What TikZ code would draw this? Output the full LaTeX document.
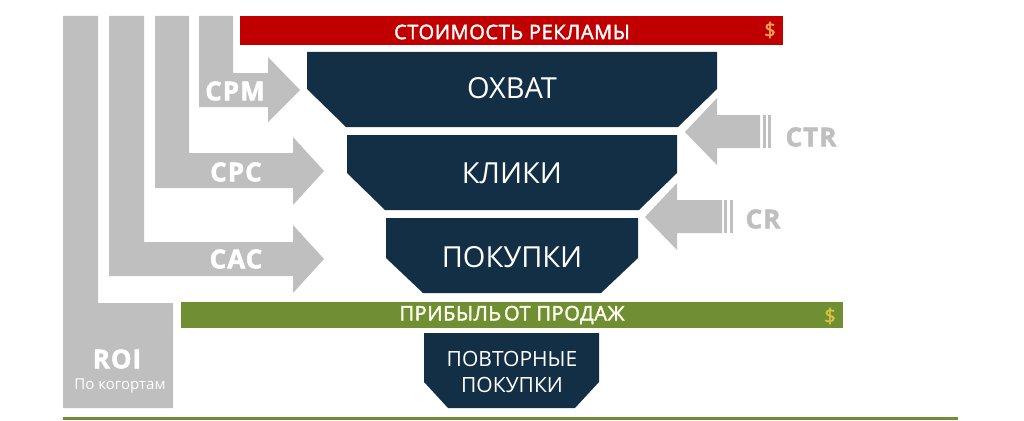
\documentclass[tikz,border=0pt]{standalone}
\usepackage{fontspec}
\setmainfont{Open Sans}
\usepackage{tikz}
\usetikzlibrary{calc}
\definecolor{funnelblue}{HTML}{132F46}
\definecolor{metricgray}{HTML}{BFBFBF}
\definecolor{costred}{HTML}{C00000}
\definecolor{profitgreen}{HTML}{6F8F32}
\definecolor{costdollar}{HTML}{F5A54A}
\definecolor{profitdollar}{HTML}{D9C23E}
\tikzset{funnel/.style={fill=funnelblue},
metric/.style={fill=metricgray},
stage/.style={inner sep=0pt, text=white, font=\fontsize{29}{32}\selectfont},
metrictext/.style={inner sep=0pt, font=\bfseries\fontsize{26}{28}\selectfont\addfontfeatures{FakeBold=2, LetterSpace=4}},
bartext/.style={inner sep=0pt, font=\fontsize{20}{22}\selectfont\addfontfeatures{FakeBold=2, LetterSpace=3}}}

\begin{document}
\begin{tikzpicture}[x=1pt, y=-1pt]
\useasboundingbox[fill=white] (0,0) rectangle (1024,420);
% cost and profit bars
\fill[costred] (240,16) rectangle (783,45);
\fill[profitgreen] (181,302) rectangle (843,328);
\fill[profitgreen] (63,417) rectangle (958,420);
\node[bartext, text=white] (cost) at (512,32) {СТОИМОСТЬ РЕКЛАМЫ};
\node[bartext, text=costdollar] (costusd) at (770,30) {\$};
\node[bartext, text=white!95!yellow] (profit) at (512,315) {ПРИБЫЛЬ\hspace{-3pt} ОТ ПРОДАЖ};
\node[bartext, text=profitdollar] (profitusd) at (830,316) {\$};
% funnel
\fill[funnel] (307,52) -- (717,52) -- (717,89) -- (678,127) -- (346,127) -- (307,89) -- cycle;
\fill[funnel] (347,135) -- (677,135) -- (677,173) -- (639,210) -- (385,210) -- (347,173) -- cycle;
\fill[funnel] (386,218) -- (638,218) -- (638,258) -- (601,293) -- (423,293) -- (386,258) -- cycle;
\fill[funnel] (424,333) -- (599,333) -- (599,382) -- (575,408) -- (448,408) -- (424,382) -- cycle;
\node[stage] (reach) at (512,88) {ОХВАТ};
\node[stage] (clicks) at (512,173) {КЛИКИ};
\node[stage] (buys) at (512,257) {ПОКУПКИ};
\node[stage, font=\fontsize{21}{26}\selectfont, align=center] (rebuys) at (512,372) {ПОВТОРНЫЕ\\ПОКУПКИ};
% metrics on the left
\fill[metric] (63,16) -- (98,16) -- (98,303) -- (173,303) -- (173,408) -- (63,408) -- cycle;
\fill[metric] (109,16) -- (144,16) -- (144,242) -- (293,242) -- (293,225) -- (324,259) -- (293,293) -- (293,276) -- (109,276) -- cycle;
\fill[metric] (155,16) -- (189,16) -- (189,153) -- (293,153) -- (293,137) -- (324,171) -- (293,205) -- (293,188) -- (155,188) -- cycle;
\fill[metric] (199,16) -- (233,16) -- (233,73) -- (268,73) -- (268,57) -- (300,90) -- (268,122) -- (268,107) -- (199,107) -- cycle;
\node[metrictext, text=white] (cpm) at (235,91) {CPM};
\node[metrictext, text=white] (cpc) at (236,172) {CPC};
\node[metrictext, text=white] (cac) at (236,259) {CAC};
\node[metrictext, text=white] (roi) at (117,359) {ROI};
\node[inner sep=0pt, text=white, font=\fontsize{15}{17}\selectfont] (cohort) at (120,386) {По когортам};
% metrics on the right
\fill[metric] (685,132) -- (717,98) -- (717,115) -- (760,115) -- (760,148) -- (717,148) -- (717,165) -- cycle;
\fill[metric] (763,115) rectangle (766,148);
\fill[metric] (768,115) rectangle (771,148);
\fill[metric] (645,217) -- (677,183) -- (677,200) -- (722,200) -- (722,233) -- (677,233) -- (677,250) -- cycle;
\fill[metric] (724,200) rectangle (727,233);
\fill[metric] (730,200) rectangle (733,233);
\node[metrictext, text=metricgray] (ctr) at (811,137) {CTR};
\node[metrictext, text=metricgray] (cr) at (763,219) {CR};
\end{tikzpicture}
\end{document}
